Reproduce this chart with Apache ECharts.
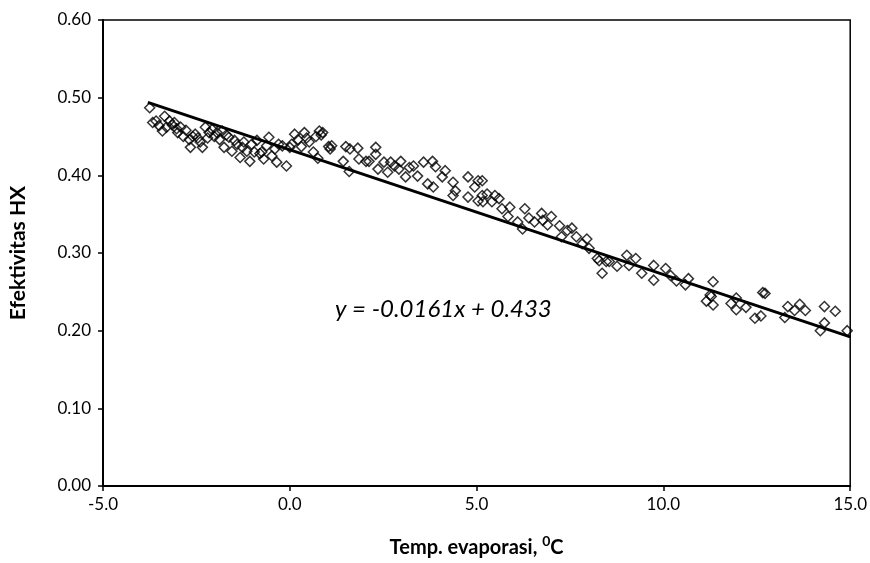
<!DOCTYPE html>
<html>
<head>
<meta charset="utf-8">
<script src="https://cdn.jsdelivr.net/npm/echarts@6/dist/echarts.min.js"></script>
<style>
  html, body { margin: 0; padding: 0; background: #fff; }
  #chart { width: 870px; height: 563px; }
</style>
</head>
<body>
<div id="chart"></div>
<script>
// measured points (temperature, effectiveness)
const tempX = [
  -3.75, -3.67, -3.58, -3.5, -3.41, -3.35, -3.3, -3.22, -3.15, -3.09, -3.03, -3.0, -2.92, -2.85, -2.78, -2.69, -2.66, -2.6, -2.53, -2.46,
  -2.4, -2.34, -2.26, -2.2, -2.16, -2.08, -2.02, -1.95, -1.88, -1.81, -1.76, -1.7, -1.63, -1.55, -1.48, -1.41, -1.33, -1.27, -1.23, -1.15,
  -1.07, -1.02, -0.95, -0.88, -0.8, -0.75, -0.7, -0.62, -0.56, -0.48, -0.4, -0.35, -0.3, -0.2, -0.09, 0.0, 0.05, 0.13, 0.22, 0.31,
  0.39, 0.45, 0.52, 0.63, 0.7, 0.75, 0.79, 0.84, 0.88, 1.04, 1.08, 1.12, 1.43, 1.5, 1.59, 1.61, 1.82, 1.85, 2.04, 2.12,
  2.3, 2.3, 2.36, 2.52, 2.62, 2.7, 2.8, 2.92, 2.97, 3.1, 3.2, 3.31, 3.42, 3.58, 3.69, 3.82, 3.84, 3.9, 4.08, 4.16,
  4.37, 4.37, 4.43, 4.77, 4.77, 4.95, 5.04, 5.04, 5.15, 5.15, 5.17, 5.28, 5.41, 5.49, 5.6, 5.68, 5.84, 5.89, 6.1, 6.23,
  6.29, 6.4, 6.55, 6.74, 6.77, 6.9, 7.0, 7.22, 7.27, 7.43, 7.55, 7.67, 7.83, 7.95, 8.01, 8.23, 8.28, 8.36, 8.47, 8.55,
  8.76, 9.02, 9.08, 9.26, 9.42, 9.74, 9.74, 10.06, 10.19, 10.35, 10.59, 10.67, 11.15, 11.25, 11.33, 11.28, 11.33, 11.81, 11.95, 11.95,
  12.21, 12.45, 12.61, 12.66, 12.72, 13.25, 13.33, 13.51, 13.65, 13.8, 14.2, 14.31, 14.31, 14.6, 14.92
];
const effY = [
  0.487, 0.468, 0.470, 0.464, 0.457, 0.476, 0.462, 0.470, 0.465, 0.468, 0.460, 0.455, 0.462, 0.450, 0.458, 0.446, 0.436, 0.450, 0.453, 0.448,
  0.443, 0.436, 0.462, 0.448, 0.455, 0.459, 0.450, 0.455, 0.446, 0.457, 0.436, 0.452, 0.449, 0.431, 0.445, 0.440, 0.423, 0.436, 0.443, 0.431,
  0.418, 0.440, 0.430, 0.445, 0.428, 0.430, 0.421, 0.438, 0.449, 0.425, 0.434, 0.417, 0.440, 0.438, 0.412, 0.436, 0.440, 0.453, 0.446, 0.437,
  0.455, 0.448, 0.443, 0.430, 0.450, 0.422, 0.457, 0.452, 0.455, 0.437, 0.434, 0.438, 0.418, 0.437, 0.405, 0.434, 0.435, 0.421, 0.418, 0.418,
  0.436, 0.427, 0.408, 0.417, 0.404, 0.417, 0.412, 0.408, 0.418, 0.398, 0.410, 0.412, 0.399, 0.417, 0.389, 0.418, 0.385, 0.411, 0.398, 0.406,
  0.391, 0.374, 0.380, 0.398, 0.372, 0.385, 0.393, 0.367, 0.374, 0.393, 0.366, 0.376, 0.366, 0.374, 0.370, 0.357, 0.347, 0.359, 0.340, 0.331,
  0.357, 0.345, 0.340, 0.351, 0.342, 0.336, 0.347, 0.335, 0.321, 0.329, 0.332, 0.321, 0.312, 0.318, 0.306, 0.293, 0.290, 0.274, 0.289, 0.289,
  0.283, 0.297, 0.284, 0.293, 0.274, 0.284, 0.265, 0.280, 0.271, 0.264, 0.259, 0.267, 0.238, 0.246, 0.263, 0.244, 0.233, 0.235, 0.242, 0.227,
  0.230, 0.216, 0.219, 0.249, 0.248, 0.217, 0.231, 0.226, 0.234, 0.226, 0.200, 0.231, 0.210, 0.225, 0.200
];
// linear fit end points
const trendX = [-3.8, 15.0];
const trendY = [0.494, 0.192];
const xTicks = [-5, 0, 5, 10, 15];
const yTicks = [0, 0.1, 0.2, 0.3, 0.4, 0.5, 0.6];
const eqText = 'y = -0.0161x + 0.433';

const font = 'Lato, "Open Sans", sans-serif';
const chart = echarts.init(document.getElementById('chart'));
chart.setOption({
  animation: false,
  backgroundColor: '#fff',
  grid: {
    left: 101, right: 17, top: 20, bottom: 74,
    show: true, borderColor: '#000', borderWidth: 1.5
  },
  xAxis: {
    type: 'value',
    min: xTicks[0], max: xTicks[xTicks.length - 1], interval: 5,
    name: '{a|Temp. evaporasi, }{s|0}{a|C}',
    nameLocation: 'middle', nameGap: 48,
    nameTextStyle: {
      rich: {
        a: { fontFamily: font, fontSize: 20, fontWeight: 'bold', color: '#000' },
        s: { fontFamily: font, fontSize: 14, fontWeight: 'bold', color: '#000', padding: [0, 0, 14, 0] }
      }
    },
    axisLine: { onZero: false, lineStyle: { color: '#000', width: 2 } },
    axisTick: { length: 5, lineStyle: { color: '#000', width: 1.5 } },
    axisLabel: { fontFamily: font, fontSize: 17, color: '#000', margin: 10, formatter: v => v.toFixed(1) },
    splitLine: { show: false }
  },
  yAxis: {
    type: 'value',
    min: yTicks[0], max: yTicks[yTicks.length - 1], interval: 0.1,
    name: 'Efektivitas HX',
    nameLocation: 'middle', nameGap: 74,
    nameTextStyle: { fontFamily: font, fontSize: 21, fontWeight: 'bold', color: '#000' },
    axisLine: { onZero: false, lineStyle: { color: '#000', width: 2 } },
    axisTick: { length: 5, lineStyle: { color: '#000', width: 1.5 } },
    axisLabel: { fontFamily: font, fontSize: 17, color: '#000', margin: 12, formatter: v => v.toFixed(2) },
    splitLine: { show: false }
  },
  graphic: [{
    type: 'text', left: 335, top: 297,
    style: { text: eqText, font: 'italic 24px ' + font, fill: '#000' }
  }],
  series: [
    {
      type: 'scatter',
      data: tempX.map((x, i) => [x, effY[i]]),
      symbol: 'diamond',
      symbolSize: 10,
      itemStyle: { color: 'rgba(255,255,255,0)', borderColor: '#000', borderWidth: 1.5 },
      z: 2
    },
    {
      type: 'line',
      data: trendX.map((x, i) => [x, trendY[i]]),
      showSymbol: false,
      lineStyle: { color: '#000', width: 3 },
      z: 3
    }
  ]
});
</script>
</body>
</html>
